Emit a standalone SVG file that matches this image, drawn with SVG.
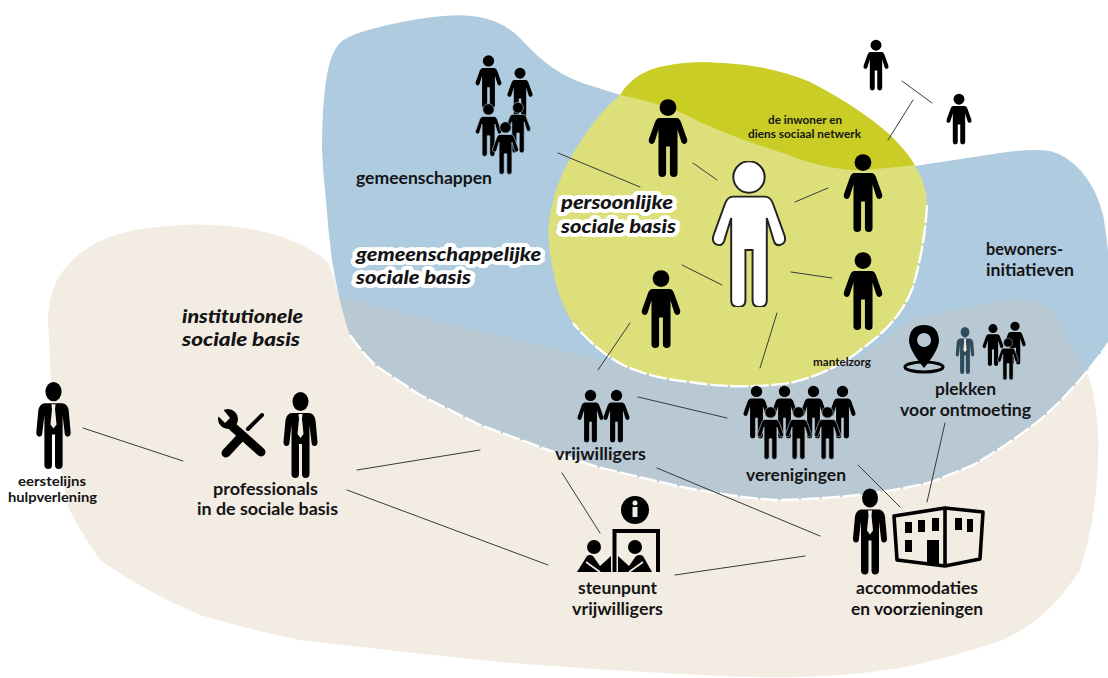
<svg xmlns="http://www.w3.org/2000/svg" width="1108" height="678" viewBox="0 0 1108 678">
<style>
text{font-family:Lato,"Noto Sans","Liberation Sans",sans-serif;font-weight:700;fill:#141416;font-size:17.400px}
.s{font-size:13.200px}.xs{font-size:11px}
.i{font-style:italic;font-weight:900;font-size:19px;stroke:#fff;stroke-width:8px;paint-order:stroke;stroke-linejoin:round}
.c line{stroke:#3a3a3a;stroke-width:1;stroke-linecap:round}
.d{fill:none;stroke:#fff;stroke-width:2.400;stroke-dasharray:18 2.500}
.k{fill:#000}
</style>
<defs>
<symbol id="p" viewBox="0 0 42 82"><circle cx="21" cy="9" r="8.800"/><path d="M12 20H30Q33 20 34.500 24L41 42Q42 46 39 47Q36 48 35 45L31 32V78Q31 82 27 82Q23 82 23 78V50H19V78Q19 82 15 82Q11 82 11 78V32L7 45Q6 48 3 47Q0 46 1 42L7.500 24Q9 20 12 20Z"/></symbol>
<symbol id="m" viewBox="0 0 34 86"><ellipse cx="17" cy="9.500" rx="8" ry="9.500"/><path d="M8 21H26Q31 22 32 28L34 50Q34 54 31 54Q28 54 28 50L26 33V82Q26 86 22 86Q18.500 86 18.500 82V52H15.500V82Q15.500 86 12 86Q8 86 8 82V33L6 50Q6 54 3 54Q0 54 0 50L2 28Q3 22 8 21Z"/><path d="M15 22H19L18.500 27L20 42L17 46L14 42L15.500 27Z" fill="#f3ece2"/></symbol>
<path id="beigeShape" d="M48 320Q48 275 85 250Q110 232 150 228Q185 223 215 225Q260 228 290 240Q315 250 328 262L340 297L433 320L560 350L700 385L857 358L913 320Q940 312 967 308Q995 302 1017 300Q1036 300 1050 308Q1060 320 1067 337Q1082 358 1090 380Q1096 405 1098 430Q1099 455 1097 480Q1093 530 1080 570Q1062 598 1040 617Q1024 630 1003 640Q950 658 900 668Q850 676 800 677Q750 678 700 675Q600 670 500 662Q400 652 300 640Q250 630 200 615Q145 592 100 560Q82 535 68 507Q60 468 55 430Q50 375 48 320Z"/>
<path id="blueShape" d="M326 81Q330 52 341 42Q352 32 402 22Q453 12 479 17Q505 22 521 39Q537 57 553 68Q570 80 595 87Q620 95 660 107L850 160L915 166Q967 158 1000 153Q1033 148 1050 151Q1067 155 1082 172Q1097 190 1103 215Q1108 240 1112 300L1112 338Q1080 385 1040 420Q1005 447 973 465Q950 475 928 483Q875 495 823 498Q798 500 773 500Q723 496 673 485Q635 476 597 467Q568 457 540 447Q510 436 480 425Q450 410 420 395Q397 380 375 365Q360 350 350 335Q344 318 340 300Q335 280 332 260Q328 230 326 200Q323 175 322 150Q322 130 323 110Q324 95 326 81Z"/>
<path id="greenShape" d="M620 95Q630 78 650 70Q680 60 720 63Q770 65 810 82Q860 108 890 135Q910 155 915 166Q927 185 927 205Q925 245 913 287Q900 322 863 348Q835 372 790 383Q740 390 690 382Q650 378 623 365Q595 350 573 323Q558 300 552 265Q545 230 552 205Q560 170 585 135Q600 112 620 95Z"/>
<clipPath id="blueClip"><use href="#blueShape"/></clipPath>
<clipPath id="greenClip"><use href="#greenShape"/></clipPath>
</defs>

<g id="regions">
<use href="#beigeShape" fill="#f3ece2"/>
<use href="#blueShape" fill="#aecbdf"/>
<use href="#beigeShape" fill="#b9c9d3" clip-path="url(#blueClip)"/>
<path class="d" d="M1112 338Q1080 385 1040 420Q1005 447 973 465Q950 475 928 483Q875 495 823 498Q798 500 773 500Q723 496 673 485Q635 476 597 467Q568 457 540 447Q510 436 480 425Q450 410 420 395Q397 380 375 365Q360 350 350 335"/>
<use href="#greenShape" fill="#dde07a"/>
<path d="M620 95Q670 105 700 122Q740 140 783 153Q830 172 867 170L915 165L935 50L600 40Z" fill="#c9cd26" clip-path="url(#greenClip)"/>
<path class="d" d="M927 205Q925 245 913 287Q900 322 863 348Q835 372 790 383Q740 390 690 382Q650 378 623 365Q595 350 573 323"/>
</g>

<g id="connectors" class="c">
<line x1="558" y1="153" x2="640" y2="187"/>
<line x1="693" y1="163" x2="717" y2="180"/>
<line x1="795" y1="202" x2="828" y2="188"/>
<line x1="791" y1="272" x2="832" y2="278"/>
<line x1="682" y1="265" x2="722" y2="285"/>
<line x1="777" y1="313" x2="760" y2="368"/>
<line x1="630" y1="323" x2="598" y2="370"/>
<line x1="888" y1="140" x2="913" y2="100"/>
<line x1="902" y1="81" x2="932" y2="103"/>
<line x1="638" y1="397" x2="727" y2="418"/>
<line x1="657" y1="468" x2="820" y2="536"/>
<line x1="562" y1="473" x2="600" y2="533"/>
<line x1="675" y1="575" x2="805" y2="556"/>
<line x1="858" y1="465" x2="900" y2="507"/>
<line x1="945" y1="423" x2="927" y2="502"/>
<line x1="83" y1="428" x2="183" y2="461"/>
<line x1="357" y1="470" x2="480" y2="450"/>
<line x1="347" y1="490" x2="548" y2="565"/>
</g>

<g id="inwoner">
<use href="#p" x="710" y="161" width="78" height="146" fill="#fff" stroke="#222" stroke-width="1.100"/>
<text class="xs" x="768" y="124" textLength="74" lengthAdjust="spacingAndGlyphs">de inwoner en</text>
<text class="xs" x="748" y="138" textLength="113" lengthAdjust="spacingAndGlyphs">diens sociaal netwerk</text>
</g>
<g id="netwerk">
<use href="#p" x="648" y="98" width="40" height="80"/>
<use href="#p" x="843" y="153" width="40" height="80"/>
<use href="#p" x="843" y="251" width="40" height="80"/>
<use href="#p" x="641" y="269" width="40" height="80"/>
<use href="#p" x="863" y="38" width="26" height="54"/>
<use href="#p" x="946" y="92" width="26" height="54"/>
</g>
<g id="gemeenschappen">
<use href="#p" x="475" y="55" width="27" height="53"/>
<use href="#p" x="507" y="67" width="26" height="52"/>
<use href="#p" x="475" y="103" width="27" height="54" stroke="#aecbdf" stroke-width="1"/>
<use href="#p" x="505" y="101" width="26" height="53" stroke="#aecbdf" stroke-width="1"/>
<use href="#p" x="492" y="121" width="27" height="54" stroke="#aecbdf" stroke-width="1"/>
<text x="356" y="184" textLength="136" lengthAdjust="spacingAndGlyphs">gemeenschappen</text>
</g>
<g id="persoonlijke-sociale-basis">
<text class="i" x="561" y="209" textLength="112" lengthAdjust="spacingAndGlyphs">persoonlijke</text>
<text class="i" x="561" y="233" textLength="115" lengthAdjust="spacingAndGlyphs">sociale basis</text>
</g>
<g id="gemeenschappelijke-sociale-basis">
<text class="i" x="356" y="261" textLength="185" lengthAdjust="spacingAndGlyphs">gemeenschappelijke</text>
<text class="i" x="356" y="284" textLength="115" lengthAdjust="spacingAndGlyphs">sociale basis</text>
</g>
<g id="institutionele-sociale-basis">
<text class="i" x="182" y="323" textLength="121" lengthAdjust="spacingAndGlyphs" style="stroke:none">institutionele</text>
<text class="i" x="182" y="346" textLength="118" lengthAdjust="spacingAndGlyphs" style="stroke:none">sociale basis</text>
</g>
<g id="bewonersinitiatieven">
<text x="986" y="255" textLength="77" lengthAdjust="spacingAndGlyphs">bewoners-</text>
<text x="986" y="276" textLength="88" lengthAdjust="spacingAndGlyphs">initiatieven</text>
</g>
<g id="mantelzorg"><text class="xs" x="813" y="366" textLength="58" lengthAdjust="spacingAndGlyphs">mantelzorg</text></g>
<g id="plekken">
<path class="k" fill-rule="evenodd" d="M924 325Q938 325 939 340Q939 350 924 368Q909 350 909 340Q910 325 924 325ZM924 333A7 7 0 1 0 924.100 347A7 7 0 1 0 924 333Z"/>
<ellipse cx="924" cy="367" rx="19" ry="5" fill="none" stroke="#000" stroke-width="3.200"/>
<use href="#m" x="955" y="327" width="20" height="47" fill="#2f4a5a"/>
<use href="#p" x="982" y="324" width="22" height="42"/>
<use href="#p" x="1004" y="321" width="22" height="44"/>
<use href="#p" x="997" y="338" width="22" height="42" stroke="#b9c9d3" stroke-width="1"/>
<text x="935" y="395" textLength="61" lengthAdjust="spacingAndGlyphs">plekken</text>
<text x="900" y="416" textLength="131" lengthAdjust="spacingAndGlyphs">voor ontmoeting</text>
</g>
<g id="vrijwilligers">
<use href="#p" x="577" y="389" width="27" height="54"/>
<use href="#p" x="603" y="389" width="27" height="54"/>
<text x="555" y="460" textLength="91" lengthAdjust="spacingAndGlyphs">vrijwilligers</text>
</g>
<g id="verenigingen">
<use href="#p" x="743" y="385" width="27" height="54"/>
<use href="#p" x="771" y="385" width="27" height="54"/>
<use href="#p" x="800" y="385" width="27" height="54"/>
<use href="#p" x="829" y="385" width="27" height="54"/>
<use href="#p" x="757" y="406" width="27" height="54" stroke="#b9c9d3" stroke-width="1"/>
<use href="#p" x="785" y="406" width="27" height="54" stroke="#b9c9d3" stroke-width="1"/>
<use href="#p" x="814" y="406" width="27" height="54" stroke="#b9c9d3" stroke-width="1"/>
<text x="746" y="481" textLength="100" lengthAdjust="spacingAndGlyphs">verenigingen</text>
</g>
<g id="steunpunt">
<circle class="k" cx="635" cy="510" r="14"/>
<circle cx="635" cy="503" r="2.500" fill="#f3ece2"/>
<rect x="632.500" y="507" width="5" height="10" fill="#f3ece2"/>
<path d="M614.500 572V531H658V572" fill="none" stroke="#000" stroke-width="4"/>
<circle class="k" cx="594" cy="547" r="7"/>
<circle class="k" cx="635" cy="547" r="7"/>
<path class="k" d="M577 572L587 556Q590 554 593 556L600 566L611 556V572Z"/>
<path class="k" d="M618 556L629 566L636 556Q640 554 643 556L652 572H618Z"/>
<path d="M586 562L600 572M643 562L629 572" stroke="#f3ece2" stroke-width="1.600" fill="none"/>
<text x="578" y="594" textLength="79" lengthAdjust="spacingAndGlyphs">steunpunt</text>
<text x="572" y="615" textLength="91" lengthAdjust="spacingAndGlyphs">vrijwilligers</text>
</g>
<g id="accommodaties">
<use href="#m" x="853" y="488" width="34" height="87"/>
<path d="M894 516L945 508L983 512L980 559L945 566L897 560ZM945 508V566" fill="none" stroke="#000" stroke-width="3.600" stroke-linejoin="round"/>
<rect class="k" x="905" y="522" width="7" height="11"/><rect class="k" x="918" y="520" width="7" height="12"/><rect class="k" x="932" y="518" width="7" height="13"/>
<rect class="k" x="905" y="540" width="7" height="12"/><rect class="k" x="927" y="540" width="12" height="25"/>
<rect class="k" x="955" y="518" width="7" height="12"/><rect class="k" x="967" y="519" width="6" height="13"/>
<text x="856" y="594" textLength="122" lengthAdjust="spacingAndGlyphs">accommodaties</text>
<text x="851" y="615" textLength="132" lengthAdjust="spacingAndGlyphs">en voorzieningen</text>
</g>
<g id="professionals">
<use href="#m" x="283" y="392" width="35" height="86"/>
<path d="M226 453L240 438" stroke="#000" stroke-width="9" stroke-linecap="round"/>
<path d="M248 429L262 415" stroke="#000" stroke-width="4" stroke-linecap="round"/>
<path d="M233 427L261 452" stroke="#000" stroke-width="9" stroke-linecap="round"/>
<circle class="k" cx="228" cy="419" r="10"/>
<path d="M222 408L216 414L225 423L230 418Z" fill="#f3ece2"/>
<text x="213" y="495" textLength="105" lengthAdjust="spacingAndGlyphs">professionals</text>
<text x="197" y="515" textLength="141" lengthAdjust="spacingAndGlyphs">in de sociale basis</text>
</g>
<g id="eerstelijns">
<use href="#m" x="36" y="382" width="35" height="87"/>
<text class="s" x="18" y="486" textLength="68" lengthAdjust="spacingAndGlyphs">eerstelijns</text>
<text class="s" x="8" y="502" textLength="89" lengthAdjust="spacingAndGlyphs">hulpverlening</text>
</g>
</svg>
